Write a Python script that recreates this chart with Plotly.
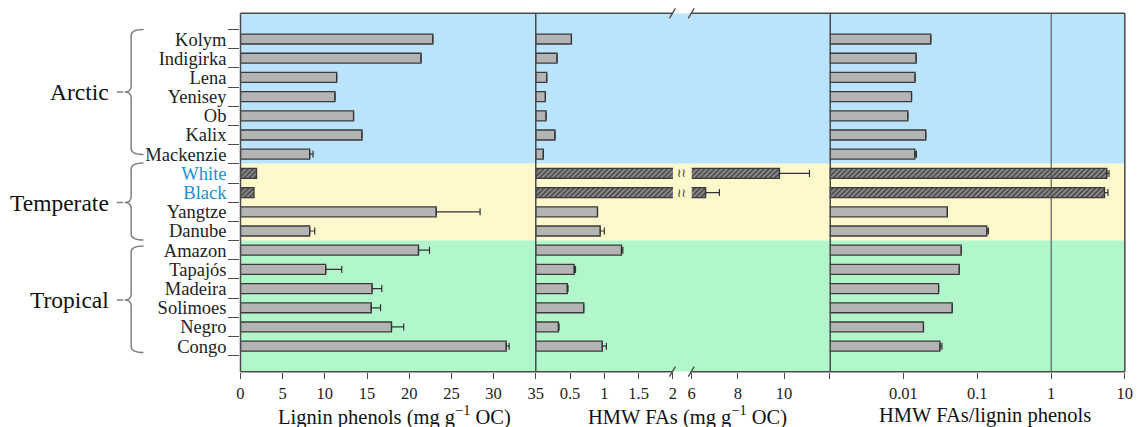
import plotly.graph_objects as go

# ---------------- data ----------------
rivers = ["Kolym", "Indigirka", "Lena", "Yenisey", "Ob", "Kalix", "Mackenzie",
          "White", "Black", "Yangtze", "Danube",
          "Amazon", "Tapajós", "Madeira", "Solimoes", "Negro", "Congo"]
hatched_rivers = ["White", "Black"]
blue_labels = ["White", "Black"]

lignin = [22.8, 21.4, 11.4, 11.2, 13.4, 14.4, 8.2, 1.9, 1.6, 23.2, 8.2,
          21.1, 10.1, 15.6, 15.5, 17.9, 31.5]
lignin_err = [None, None, None, None, None, None, 0.4, None, None, 5.2, 0.6,
              1.3, 1.9, 1.15, 1.1, 1.45, 0.35]

hmw = [0.52, 0.31, 0.16, 0.14, 0.15, 0.28, 0.11, 9.8, 6.6, 0.90, 0.94,
       1.25, 0.56, 0.46, 0.70, 0.33, 0.97]
hmw_err = [None, None, None, None, None, None, None, 1.3, 0.6, None, 0.06,
           0.02, 0.02, 0.01, None, 0.01, 0.06]

ratio = [0.0235, 0.0149, 0.0144, 0.0129, 0.0115, 0.0201, 0.0143, 5.7, 5.3,
         0.0394, 0.135, 0.0608, 0.0571, 0.030, 0.0459, 0.0187, 0.0313]
ratio_err = [None, None, None, None, None, None, 0.0007, 0.4, 0.6, None, 0.007,
             None, None, None, None, None, 0.002]

groups = ["Arctic", "Temperate", "Tropical"]

lignin_ticks = [0, 5, 10, 15, 20, 25, 30, 35]
hmw_low_ticks = [0.5, 1, 1.5, 2]
hmw_low_text = ["0.5", "1", "1.5", "2"]
hmw_high_ticks = [6, 8, 10]
hmw_high_text = ["6", "8", "10"]
ratio_ticks = [0.01, 0.1, 1, 10]
ratio_text = ["0.01", "0.1", "1", "10"]
ratio_minor_ticks = [0.001]

# ---------------- styling ----------------
W, H = 1145, 427
FONT = "Liberation Serif"
BAR_FILL = "#b4b4b4"
BAR_LINE = "#3a3a3a"
HATCH_BG = "#8e8e8e"
HATCH_FG = "#2e2e2e"
ERR_COL = "#333333"
FRAME = "#4a4a4a"
BG_BLUE = "#bae4fd"
BG_YEL = "#fff8cc"
BG_GRN = "#b2f7cb"
BAR_W = 0.52


def px(x):
    return x / W


def py(y):
    return 1 - y / H


X1 = (239, 537.4)
X2a = (537.4, 676)
X2b = (695, 835)
X3 = (834.3, 1132.7)
YTOP, YBOT = 13.3, 371.7

fig = go.Figure()


def add_bars(xs, errs, names, xaxis, hatched):
    ys, vs, es = [], [], []
    for n, v, e in zip(rivers, xs, errs):
        if n in names:
            ys.append(n)
            vs.append(v)
            es.append(e)
    marker = dict(color=BAR_FILL, line=dict(color=BAR_LINE, width=1.3))
    if hatched:
        marker = dict(color=HATCH_BG, line=dict(color=BAR_LINE, width=1.3),
                      pattern=dict(shape="/", fgcolor=HATCH_FG, bgcolor=HATCH_BG,
                                   size=3.5, solidity=0.35, fillmode="replace"))
    err = None
    if any(e is not None for e in es):
        err = dict(type="data", symmetric=False, array=es,
                   arrayminus=[0 if e is not None else None for e in es],
                   color=ERR_COL, thickness=1.2, width=3.5)
    fig.add_trace(go.Bar(x=vs, y=ys, orientation="h", width=BAR_W,
                         marker=marker, error_x=err, xaxis=xaxis, yaxis="y",
                         showlegend=False, hoverinfo="x+y"))


normal = [r for r in rivers if r not in hatched_rivers]
# panel 1
add_bars(lignin, lignin_err, normal, "x", False)
add_bars(lignin, lignin_err, hatched_rivers, "x", True)
# panel 2 (low part)
add_bars(hmw, hmw_err, normal, "x2", False)
add_bars(hmw, [None] * len(rivers), hatched_rivers, "x2", True)
# panel 2 (high part after break)
add_bars(hmw, hmw_err, hatched_rivers, "x3", True)
# panel 3
add_bars(ratio, ratio_err, normal, "x4", False)
add_bars(ratio, ratio_err, hatched_rivers, "x4", True)

ticktext = [f"<span style='color:#1a8fd4'>{r}</span>" if r in blue_labels else r
            for r in rivers]

axis_common = dict(ticks="outside", ticklen=6, tickcolor=FRAME, tickwidth=1,
                   showgrid=False, zeroline=False, showline=False,
                   tickfont=dict(family=FONT, size=16.5, color="#222"),
                   anchor="y", fixedrange=True)

fig.update_layout(
    width=W, height=H,
    margin=dict(l=0, r=0, t=0, b=0),
    paper_bgcolor="white", plot_bgcolor="rgba(0,0,0,0)",
    font=dict(family=FONT, color="#222"),
    barmode="overlay",
    xaxis=dict(domain=[px(X1[0]), px(X1[1])], range=[0, 35], tickmode="array",
               tickvals=lignin_ticks, **axis_common),
    xaxis2=dict(domain=[px(X2a[0]), px(X2a[1])], range=[0, 2], tickmode="array",
                tickvals=hmw_low_ticks, ticktext=hmw_low_text, **axis_common),
    xaxis3=dict(domain=[px(X2b[0]), px(X2b[1])], range=[6, 12], tickmode="array",
                tickvals=hmw_high_ticks, ticktext=hmw_high_text, **axis_common),
    xaxis4=dict(domain=[px(X3[0]), px(X3[1])], type="log", range=[-3, 1],
                tickmode="array", tickvals=ratio_ticks, ticktext=ratio_text,
                minor=dict(tickmode="array", tickvals=ratio_minor_ticks,
                           ticks="outside", ticklen=6, tickcolor=FRAME, showgrid=False),
                **axis_common),
    yaxis=dict(domain=[py(YBOT), py(YTOP)], type="category",
               categoryorder="array", categoryarray=rivers,
               range=[17.33, -1.34], tickmode="array", tickvals=rivers,
               ticktext=ticktext, tickson="boundaries", ticks="outside",
               ticklen=11, tickcolor=FRAME, tickwidth=1, showgrid=False,
               ticklabelstandoff=13,
               zeroline=False, showline=False, anchor="x", fixedrange=True,
               tickfont=dict(family=FONT, size=18.5, color="#222")),
)

shapes = []
# background bands (in y data units of category index)
for y0, y1, col in [(-1.34, 6.5, BG_BLUE), (6.5, 10.5, BG_YEL), (10.5, 17.33, BG_GRN)]:
    shapes.append(dict(type="rect", xref="paper", yref="y", x0=px(X1[0]), x1=px(X3[1]),
                       y0=y0, y1=y1, fillcolor=col, line=dict(width=0), layer="below"))


def hline(x0, x1, y, w=1.5, col=FRAME):
    shapes.append(dict(type="line", xref="paper", yref="paper", x0=px(x0), x1=px(x1),
                       y0=py(y), y1=py(y), line=dict(color=col, width=w), layer="above"))


def vline(x, y0, y1, w=1.5, col=FRAME):
    shapes.append(dict(type="line", xref="paper", yref="paper", x0=px(x), x1=px(x),
                       y0=py(y0), y1=py(y1), line=dict(color=col, width=w), layer="above"))


# frame
hline(X1[0], 676, YTOP)
hline(694, X3[1], YTOP)
hline(X1[0], 676, YBOT)
hline(694, X3[1], YBOT)
for xv in [X1[0], X1[1], X2b[1], X3[1]]:
    vline(xv, YTOP, YBOT)
# reference line at ratio = 1
vline(1058.3, YTOP, YBOT, w=1.1, col="#555")

# break slashes
for xc in [675.5, 694.5]:
    for yc in [YTOP, YBOT]:
        shapes.append(dict(type="line", xref="paper", yref="paper",
                           x0=px(xc - 3), x1=px(xc + 3), y0=py(yc + 5), y1=py(yc - 5),
                           line=dict(color=FRAME, width=1.3), layer="above"))


# braces
def brace(top, mid, bot):
    xe, xv, xt, r = 141, 128.5, 122, 6
    pts = (f"M {px(xe)},{py(top)} Q {px(xv)},{py(top)} {px(xv)},{py(top + r)} "
           f"L {px(xv)},{py(mid - r)} Q {px(xv)},{py(mid)} {px(xt)},{py(mid)} "
           f"Q {px(xv)},{py(mid)} {px(xv)},{py(mid + r)} "
           f"L {px(xv)},{py(bot - r)} Q {px(xv)},{py(bot)} {px(xe)},{py(bot)}")
    shapes.append(dict(type="path", xref="paper", yref="paper", path=pts,
                       line=dict(color="#808080", width=1.5)))
    shapes.append(dict(type="line", xref="paper", yref="paper", x0=px(114), x1=px(120.5),
                       y0=py(mid), y1=py(mid), line=dict(color="#808080", width=1.5)))


brace_pos = [(29.5, 92, 154.5), (163, 202.5, 240), (246, 300, 352.5)]
for t, m, b in brace_pos:
    brace(t, m, b)

annotations = []
for g, (t, m, b) in zip(groups, brace_pos):
    annotations.append(dict(text=g, xref="paper", yref="paper", x=px(108), y=py(m),
                            xanchor="right", yanchor="middle", showarrow=False,
                            font=dict(family=FONT, size=23.5, color="#111")))

# break symbols on the White and Black bars
for r in hatched_rivers:
    annotations.append(dict(text="≀≀", xref="paper", yref="y", x=px(685), y=r,
                            xanchor="center", yanchor="middle", showarrow=False,
                            font=dict(family="DejaVu Sans", size=12, color="#333")))

titles = [("Lignin phenols (mg g<sup>−1</sup> OC)", 395),
          ("HMW FAs (mg g<sup>−1</sup> OC)", 691),
          ("HMW FAs/lignin phenols", 991.5)]
for t, xc in titles:
    annotations.append(dict(text=t, xref="paper", yref="paper", x=px(xc), y=py(415),
                            xanchor="center", yanchor="middle", showarrow=False,
                            font=dict(family=FONT, size=20.5, color="#111")))

fig.update_layout(shapes=shapes, annotations=annotations)

fig.write_html("out.html")
